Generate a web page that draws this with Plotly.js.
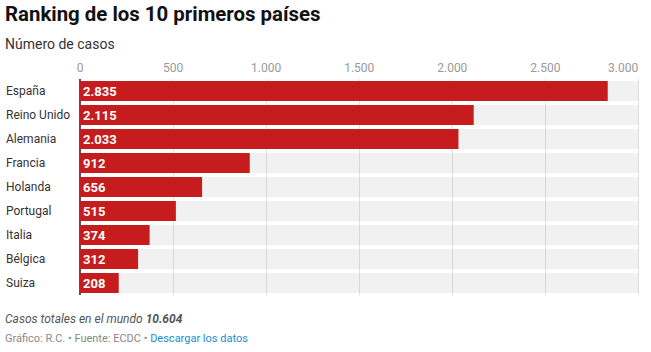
<!DOCTYPE html>
<html><head><meta charset="utf-8">
<script src="https://cdn.plot.ly/plotly-3.0.1.min.js"></script>
<style>html,body{margin:0;padding:0;background:#fff}#c{width:651px;height:352px}</style>
</head><body><div id="c"></div>
<script>
const countries = ["España","Reino Unido","Alemania","Francia","Holanda","Portugal","Italia","Bélgica","Suiza"];
const cases = [2835, 2115, 2033, 912, 656, 515, 374, 312, 208];
const tickValues = [0, 500, 1000, 1500, 2000, 2500, 3000];
const axisMax = 3000;
const worldTotal = 10604;

const fmt = n => n.toString().replace(/\B(?=(\d{3})+(?!\d))/g, ".");

const W = 651, H = 352, mL = 80, mR = 12, mT = 79, mB = 57;
const plotH = H - mT - mB, plotW = W - mL - mR;
const py = p => (H - mB - p) / plotH;
const px = p => (p - mL) / plotW;

const track = {
  type: 'bar', orientation: 'h', y: countries, x: countries.map(() => axisMax),
  marker: {color: 'rgba(0,0,0,0.055)'}, width: 0.83, hoverinfo: 'skip', showlegend: false
};
const bars = {
  type: 'bar', orientation: 'h', y: countries, x: cases,
  marker: {color: '#c61c1d'}, width: 0.83,
  text: cases.map(fmt), texttemplate: '<b>%{text}</b>', textposition: 'inside',
  insidetextanchor: 'start', constraintext: 'none',
  textfont: {family: 'Roboto', size: 13, color: '#ffffff'},
  hoverinfo: 'skip', showlegend: false
};

const tickFont = {family: 'Roboto', size: 12, color: '#999999'};
const lastTick = tickValues[tickValues.length - 1];

const annotations = countries.map(c => ({
  xref: 'paper', yref: 'y', x: px(4), y: c, xanchor: 'left', yanchor: 'middle',
  text: c, showarrow: false, font: {family: 'Roboto', size: 12, color: '#333333'}
}));
annotations.push({
  xref: 'x', yref: 'paper', x: lastTick, y: py(68), xanchor: 'right', yanchor: 'middle',
  text: fmt(lastTick), showarrow: false, font: tickFont, xshift: 2
});
annotations.push({
  xref: 'paper', yref: 'paper', x: px(3), y: py(44), xanchor: 'left', yanchor: 'middle',
  text: 'Número de casos', showarrow: false, font: {family: 'Roboto', size: 14, color: '#333333'}
});
annotations.push({
  xref: 'paper', yref: 'paper', x: px(3), y: py(319), xanchor: 'left', yanchor: 'middle',
  text: '<i>Casos totales en el mundo <b>' + fmt(worldTotal) + '</b></i>', showarrow: false,
  font: {family: 'Roboto', size: 12, color: '#555555'}
});
annotations.push({
  xref: 'paper', yref: 'paper', x: px(3), y: py(338), xanchor: 'left', yanchor: 'middle',
  text: 'Gráfico: R.C. • Fuente: ECDC • <span style="color:#1a8ed0">Descargar los datos</span>', showarrow: false,
  font: {family: 'Roboto', size: 11, color: '#888888'}
});

const layout = {
  width: W, height: H, margin: {l: mL, r: mR, t: mT, b: mB, pad: 0},
  paper_bgcolor: '#fff', plot_bgcolor: '#fff',
  separators: ',.', barmode: 'overlay',
  title: {text: '<b>Ranking de los 10 primeros países</b>', x: 5/W, xanchor: 'left', xref: 'container',
    y: 1 - 14/H, yanchor: 'middle', yref: 'container',
    font: {family: 'Roboto', size: 20.4, color: '#111111'}},
  xaxis: {side: 'top', range: [0, axisMax * 1.001], tickvals: tickValues.slice(0, -1), tickformat: ',',
    showgrid: true, gridcolor: '#e3e3e3', gridwidth: 1,
    zeroline: true, zerolinecolor: '#555555', zerolinewidth: 2,
    showline: false, ticks: '', ticklabelstandoff: 4,
    tickfont: tickFont, fixedrange: true},
  yaxis: {categoryorder: 'array', categoryarray: countries, autorange: 'reversed',
    showticklabels: false, showgrid: false, zeroline: false, ticks: '', fixedrange: true},
  shapes: [{type: 'line', layer: 'below', xref: 'x', yref: 'paper', x0: lastTick, x1: lastTick, y0: 0, y1: 1,
    line: {color: '#e3e3e3', width: 1}}],
  annotations: annotations
};
Plotly.newPlot('c', [track, bars], layout, {displayModeBar: false, staticPlot: true});
</script></body></html>
